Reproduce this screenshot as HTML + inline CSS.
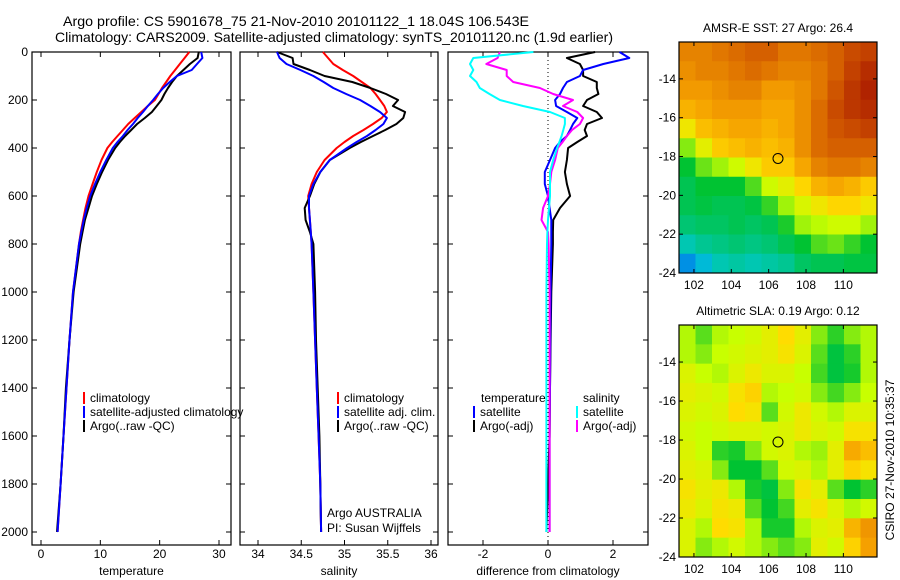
<!DOCTYPE html>
<html><head><meta charset="utf-8"><style>
body{margin:0;background:#fff;}
svg{display:block;font-family:"Liberation Sans",sans-serif;}
text{font-size:12px;fill:#000;}
</style></head><body>
<svg id="c" width="900" height="580" viewBox="0 0 900 580"></svg>
<script>
const depths=[0,25,50,75,100,125,150,175,200,225,250,275,300,325,350,375,400,450,500,550,600,650,700,750,800,1000,1200,1400,1600,1800,2000];
const tempClim=[25.0,24.2,23.4,22.6,21.8,21.1,20.4,19.8,19.2,18.0,16.9,15.8,14.7,13.8,12.9,12.0,11.2,10.2,9.4,8.7,8.0,7.5,7.1,6.7,6.4,5.4,4.8,4.3,3.8,3.3,2.8];
const tempArgo=[26.6,26.4,25.1,24.0,22.9,22.1,21.4,20.8,20.3,19.5,18.7,17.5,16.2,15.2,14.2,13.3,12.5,11.3,10.3,9.4,8.6,8.0,7.4,7.0,6.6,5.5,4.8,4.2,3.8,3.3,2.7];
const tempSat=[27.0,27.2,26.3,25.4,22.9,21.7,20.6,19.7,18.9,18.0,17.2,16.3,15.5,14.6,13.8,12.9,12.1,11.0,10.0,9.1,8.3,7.7,7.2,6.8,6.4,5.4,4.8,4.3,3.8,3.3,2.8];
const salClim=[34.75,34.81,34.87,34.98,35.10,35.20,35.30,35.36,35.41,35.46,35.49,35.43,35.33,35.22,35.10,35.00,34.91,34.77,34.68,34.62,34.58,34.59,34.60,34.61,34.62,34.64,34.66,34.68,34.70,34.72,34.73];
const salArgo=[34.22,34.40,34.41,34.60,34.77,35.09,35.30,35.48,35.62,35.56,35.70,35.68,35.60,35.47,35.33,35.19,35.06,34.83,34.72,34.65,34.60,34.54,34.55,34.60,34.64,34.66,34.67,34.69,34.71,34.72,34.73];
const salSat=[34.22,34.25,34.33,34.49,34.64,34.76,34.87,35.02,35.18,35.30,35.41,35.49,35.45,35.36,35.26,35.14,35.03,34.83,34.72,34.64,34.59,34.59,34.60,34.61,34.62,34.64,34.66,34.68,34.70,34.72,34.73];
const dTempArgo=[1.45,0.58,0.98,1.08,1.08,1.5,1.5,1.55,1.2,1.08,1.5,1.66,1.2,1.13,1.2,0.9,0.62,0.58,0.52,0.58,0.68,0.37,0.16,0.15,0.15,0.1,0.08,0.06,0.05,0.0,-0.05];
const dTempSat=[2.2,2.5,1.7,1.08,0.98,0.58,0.46,0.37,0.22,0.25,0.58,0.9,0.77,0.68,0.58,0.37,0.22,0.06,-0.1,-0.1,0.0,0.05,0.1,0.1,0.1,0.08,0.07,0.06,0.05,0.05,0.05];
const dSalSat=[-0.45,-2.3,-2.4,-2.3,-2.4,-2.2,-2.1,-1.8,-1.48,-0.77,0.06,0.52,0.52,0.47,0.42,0.35,0.28,0.16,0.06,0.06,0.06,0.03,0.0,-0.02,-0.03,-0.05,-0.05,-0.05,-0.05,-0.05,-0.05];
const dSalArgo=[-1.48,-1.55,-1.9,-1.27,-1.27,-1.07,-0.25,0.16,0.77,0.46,0.9,1.08,0.98,0.74,0.58,0.45,0.3,0.22,0.1,0.06,0.0,-0.15,-0.2,0.0,0.02,0.05,0.05,0.05,0.05,0.05,0.05];
const depthTicks=[0,200,400,600,800,1000,1200,1400,1600,1800,2000];
const tempTicks=[0,10,20,30];
const salTicks=[34,34.5,35,35.5,36];
const diffTicks=[-2,0,2];
const lonTicks=[102,104,106,108,110];
const latTicks=[-14,-16,-18,-20,-22,-24];
const sstGrid=[
[27.0,27.0,27.1,27.2,27.3,27.3,27.1,27.1,27.2,27.3,27.5,27.6],
[26.9,27.0,27.0,27.1,27.2,27.1,27.0,27.0,27.1,27.3,27.6,27.8],
[26.8,26.8,26.9,27.0,27.0,26.8,26.8,26.9,27.1,27.4,27.7,27.9],
[26.6,26.7,26.8,26.8,26.8,26.7,26.7,26.9,27.2,27.5,27.7,27.8],
[26.1,26.5,26.6,26.7,26.7,26.6,26.7,26.9,27.2,27.4,27.5,27.6],
[25.5,26.0,26.4,26.5,26.6,26.5,26.6,26.9,27.2,27.3,27.3,27.3],
[25.0,25.4,25.6,25.8,26.1,26.4,26.4,26.7,27.0,27.1,27.1,27.0],
[24.8,25.0,25.0,25.0,25.3,25.8,26.0,26.3,26.6,26.7,26.6,26.4],
[24.8,24.9,24.8,24.8,24.9,25.2,25.6,25.9,26.1,26.3,26.3,26.1],
[24.6,24.7,24.7,24.8,24.7,24.8,25.1,25.6,25.7,25.8,25.8,25.6],
[24.2,24.4,24.5,24.6,24.5,24.6,24.8,25.0,25.3,25.4,25.2,25.0],
[23.6,23.9,24.2,24.3,24.2,24.3,24.4,24.7,24.8,24.8,24.9,24.9]];
const slaGrid=[
[.12,.08,.12,.13,.14,.16,.19,.16,.10,.06,.10,.12],
[.12,.10,.13,.14,.15,.16,.18,.15,.08,.03,.06,.12],
[.15,.13,.12,.15,.17,.15,.15,.13,.07,.03,.05,.12],
[.16,.15,.14,.18,.20,.12,.13,.14,.10,.07,.10,.13],
[.15,.14,.15,.19,.18,.08,.14,.17,.14,.12,.15,.15],
[.14,.13,.14,.15,.15,.14,.15,.17,.15,.14,.18,.18],
[.15,.13,.06,.05,.10,.14,.15,.12,.11,.16,.24,.22],
[.16,.15,.10,.04,.04,.08,.14,.15,.12,.16,.20,.18],
[.18,.16,.17,.12,.05,.03,.10,.18,.16,.08,.04,.06],
[.17,.15,.18,.17,.08,.04,.07,.16,.18,.15,.12,.14],
[.15,.12,.19,.18,.12,.05,.05,.12,.15,.16,.23,.26],
[.15,.10,.12,.14,.12,.10,.08,.10,.16,.14,.20,.25]];
const argoLon=106.5, argoLat=-18.1;

const svg=document.getElementById('c');
const NS='http://www.w3.org/2000/svg';
function mk(tag,attrs,parent){const e=document.createElementNS(NS,tag);for(const k in attrs)e.setAttribute(k,attrs[k]);(parent||svg).appendChild(e);return e;}
function txt(x,y,s,anchor,parent){const t=mk('text',{x:x,y:y,'text-anchor':anchor||'start'},parent);t.textContent=s;return t;}
const yD=d=>52+d*0.24;
const TOP=52,BOT=545;

function panel(name,x0,x1,xf,ticks,fmt,label,showY){
  const g=mk('g',{});
  
  
  const r=mk('rect',{x:x0,y:TOP,width:x1-x0,height:BOT-TOP,fill:'none',stroke:'#000','stroke-width':1.2},g);
  
  
  ticks.forEach(v=>{const x=xf(v);
    mk('line',{x1:x,y1:BOT,x2:x,y2:BOT-5,stroke:'#000'},g);
    mk('line',{x1:x,y1:TOP,x2:x,y2:TOP+5,stroke:'#000'},g);
    const t=txt(x,558,fmt(v),'middle',g);
    
    
  });
  depthTicks.forEach(d=>{const y=yD(d);
    mk('line',{x1:x0,y1:y,x2:x0+5,y2:y,stroke:'#000'},g);
    mk('line',{x1:x1,y1:y,x2:x1-5,y2:y,stroke:'#000'},g);
    if(showY){const t=txt(28,y+4,String(d),'end',g);
      
      }
  });
  const l=txt((x0+x1)/2,575,label,'middle',g);
  
  
  return g;
}
function series(name,vals,xf,color,g,w){
  const pts=vals.map((v,i)=>xf(v).toFixed(1)+','+yD(depths[i]).toFixed(1)).join(' ');
  const p=mk('polyline',{points:pts,fill:'none',stroke:color,'stroke-width':w||2,'stroke-linejoin':'round'},g);
  
  
}
function legend(x,y,color,label,g){
  const b=mk('rect',{x:x,y:y-10,width:2,height:12,fill:color},g);
  
  
  const t=txt(x+7,y,label,'start',g);
  
  
}

// titles
let t1=mk('text',{x:63,y:26,textLength:466,lengthAdjust:'spacingAndGlyphs',style:'font-size:14px'});
t1.textContent='Argo profile: CS 5901678_75 21-Nov-2010 20101122_1 18.04S 106.543E';


let t2=mk('text',{x:55,y:42,textLength:558,lengthAdjust:'spacingAndGlyphs',style:'font-size:14px'});
t2.textContent='Climatology: CARS2009. Satellite-adjusted climatology: synTS_20101120.nc (1.9d earlier)';



// temperature panel
const xT=v=>41+v*5.933;
const g1=panel('temperature-panel',32,231,xT,tempTicks,v=>String(v),'temperature',true);
series('temp-climatology-line',tempClim,xT,'#f00',g1);
series('temp-argo-line',tempArgo,xT,'#000',g1);
series('temp-satellite-line',tempSat,xT,'#00f',g1);
legend(83,402,'#f00','climatology',g1);
legend(83,416,'#00f','satellite-adjusted climatology',g1);
legend(83,430,'#000','Argo(..raw -QC)',g1);

// salinity panel
const xS=v=>258+(v-34)*86.5;
const g2=panel('salinity-panel',240,438,xS,salTicks,v=>String(v),'salinity',false);
series('sal-climatology-line',salClim,xS,'#f00',g2);
series('sal-argo-line',salArgo,xS,'#000',g2);
series('sal-satellite-line',salSat,xS,'#00f',g2);
legend(337,402,'#f00','climatology',g2);
legend(337,416,'#00f','satellite adj. clim.',g2);
legend(337,430,'#000','Argo(..raw -QC)',g2);
let a1=txt(327,517,'Argo AUSTRALIA','start',g2);


let a2=txt(327,532,'PI: Susan Wijffels','start',g2);



// difference panel
const xDf=v=>548+v*32.5;
const g3=panel('difference-panel',448,648,xDf,diffTicks,v=>String(v),'difference from climatology',false);
const zl=mk('line',{x1:xDf(0),y1:TOP,x2:xDf(0),y2:BOT,stroke:'#000','stroke-dasharray':'1,3'},g3);


series('diff-temp-argo-line',dTempArgo,xDf,'#000',g3);
series('diff-temp-satellite-line',dTempSat,xDf,'#00f',g3);
series('diff-sal-argo-line',dSalArgo,xDf,'#f0f',g3);
series('diff-sal-satellite-line',dSalSat,xDf,'#0ff',g3);
let lt=txt(481,402,'temperature','start',g3);


let ls=txt(583,402,'salinity','start',g3);


legend(473,416,'#00f','satellite',g3);
legend(473,430,'#000','Argo(-adj)',g3);
legend(576,416,'#0ff','satellite',g3);
legend(576,430,'#f0f','Argo(-adj)',g3);

// colormap
const stops=[[0,[0,60,255]],[0.2,[0,200,210]],[0.4,[0,195,50]],[0.55,[200,255,0]],[0.65,[255,220,0]],[0.75,[245,160,0]],[0.87,[210,90,0]],[1,[170,25,0]]];
function cmap(t){t=Math.max(0,Math.min(1,t));for(let i=1;i<stops.length;i++){if(t<=stops[i][0]){const a=stops[i-1],b=stops[i];const f=(t-a[0])/(b[0]-a[0]);const c=a[1].map((v,k)=>Math.round(v+(b[1][k]-v)*f));return 'rgb('+c.join(',')+')';}}return 'rgb(170,25,0)';}

function map(name,y0,y1,title,grid,vmin,vmax){
  const x0=679,x1=877;
  const lonMin=101.2,lonMax=111.8,latTop=-12.1,latBot=-24;
  const xL=lon=>x0+(lon-lonMin)/(lonMax-lonMin)*(x1-x0);
  const yL=lat=>y0+(latTop-lat)/(latTop-latBot)*(y1-y0);
  const g=mk('g',{});
  
  
  const nr=grid.length,nc=grid[0].length;
  const cw=(x1-x0)/nc,ch=(y1-y0)/nr;
  grid.forEach((row,i)=>row.forEach((v,j)=>{
    const c=mk('rect',{x:x0+j*cw,y:y0+i*ch,width:cw+0.5,height:ch+0.5,fill:cmap((v-vmin)/(vmax-vmin))},g);
    
    
  }));
  mk('rect',{x:x0,y:y0,width:x1-x0,height:y1-y0,fill:'none',stroke:'#000','stroke-width':1.2},g);
  lonTicks.forEach(l=>{const x=xL(l);
    mk('line',{x1:x,y1:y1,x2:x,y2:y1-4,stroke:'#000'},g);
    mk('line',{x1:x,y1:y0,x2:x,y2:y0+4,stroke:'#000'},g);
    const t=txt(x,y1+16,String(l),'middle',g);
    
    });
  latTicks.forEach(l=>{const y=yL(l);
    mk('line',{x1:x0,y1:y,x2:x0+4,y2:y,stroke:'#000'},g);
    mk('line',{x1:x1,y1:y,x2:x1-4,y2:y,stroke:'#000'},g);
    const t=txt(x0-3,y+4,String(l),'end',g);
    
    });
  const c=mk('circle',{cx:xL(argoLon),cy:yL(argoLat),r:5,fill:'none',stroke:'#000','stroke-width':1},g);
  
  
  const tt=txt((x0+x1)/2,y0-10,title,'middle',g);
  
  
}
map('sst-map',42,273,'AMSR-E SST: 27 Argo: 26.4',sstGrid,23.0,28.0);
map('sla-map',325,557,'Altimetric SLA: 0.19 Argo: 0.12',slaGrid,-0.2,0.4);

const cs=mk('text',{x:0,y:0,transform:'translate(894,460) rotate(-90)','text-anchor':'middle'});
cs.textContent='CSIRO 27-Nov-2010 10:35:37';


</script>
</body></html>
